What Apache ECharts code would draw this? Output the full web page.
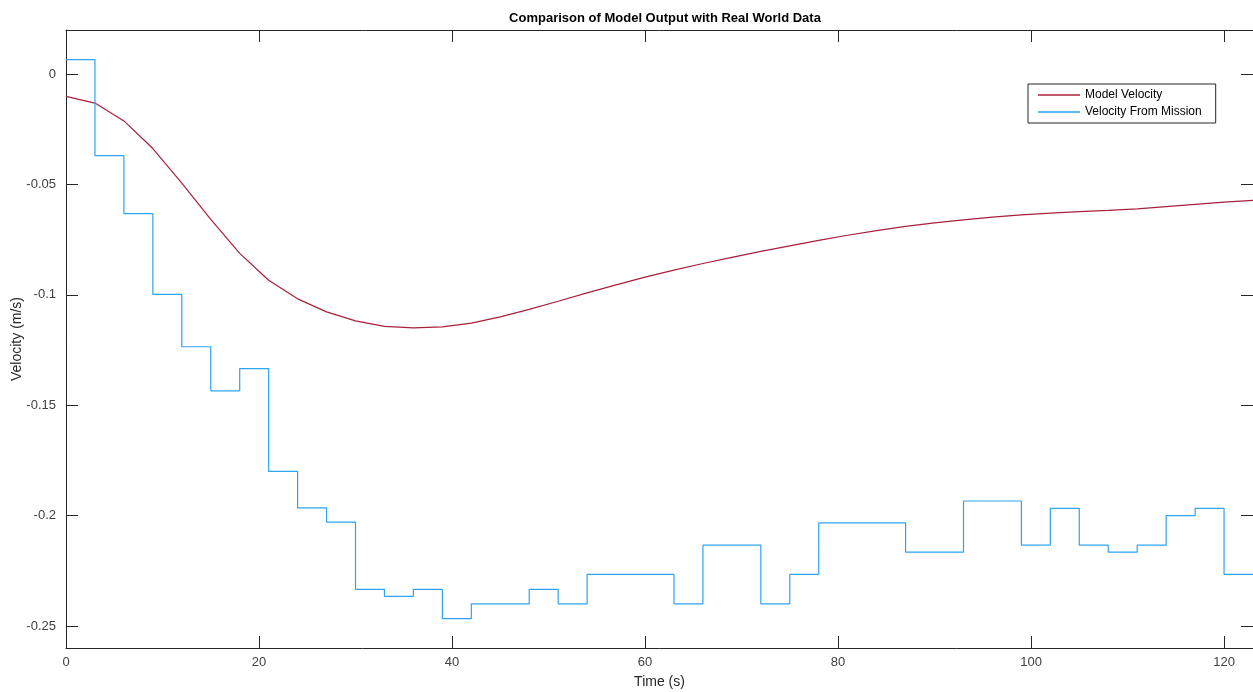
<!DOCTYPE html>
<html>
<head>
<meta charset="utf-8">
<script src="https://cdn.jsdelivr.net/npm/echarts@6/dist/echarts.min.js"></script>
<style>
  html, body { margin: 0; padding: 0; background: #fff; }
  #app { width: 1253px; height: 692px; }
</style>
</head>
<body>
<div id="app"></div>
<script>
// model output, sampled every 3 s
const modelTime = [0, 3, 6, 9, 12, 15, 18, 21, 24, 27, 30, 33, 36, 39, 42, 45, 48, 51, 54, 57, 60,
  63, 66, 69, 72, 75, 78, 81, 84, 87, 90, 93, 96, 99, 102, 105, 108, 111, 114, 117, 120, 123];
const modelVelocity = [-0.0101, -0.0131, -0.0212, -0.0337, -0.0494, -0.0658, -0.0812, -0.0934,
  -0.1018, -0.1077, -0.1118, -0.1143, -0.1150, -0.1145, -0.1128, -0.1100, -0.1066, -0.1029,
  -0.0991, -0.0955, -0.0920, -0.0888, -0.0858, -0.0830, -0.0803, -0.0778, -0.0753, -0.0730,
  -0.0709, -0.0690, -0.0674, -0.0660, -0.0648, -0.0638, -0.0630, -0.0623, -0.0617, -0.0610,
  -0.0600, -0.0590, -0.0580, -0.0572];

// mission data, held constant between samples (last value repeated to close the step)
const missionTime = [0, 3, 6, 9, 12, 15, 18, 21, 24, 27, 30, 33, 36, 39, 42, 45, 48, 51, 54, 57, 60,
  63, 66, 69, 72, 75, 78, 81, 84, 87, 90, 93, 96, 99, 102, 105, 108, 111, 114, 117, 120, 123];
const missionVelocity = [0.0066, -0.0369, -0.0632, -0.0998, -0.1235, -0.1435, -0.1334, -0.1800,
  -0.1965, -0.2030, -0.2334, -0.2366, -0.2334, -0.2467, -0.2400, -0.2400, -0.2334, -0.2400,
  -0.2266, -0.2266, -0.2266, -0.2400, -0.2134, -0.2134, -0.2400, -0.2266, -0.2033, -0.2033,
  -0.2033, -0.2166, -0.2166, -0.1934, -0.1934, -0.2134, -0.1967, -0.2134, -0.2166, -0.2134,
  -0.2000, -0.1967, -0.2266, -0.2266];

const xTicks = [0, 20, 40, 60, 80, 100, 120];
const yTicks = [-0.25, -0.2, -0.15, -0.1, -0.05, 0];

const font = 'Liberation Sans, Arial, Helvetica, sans-serif';
const axisColor = '#262626';

const pairs = (xs, ys) => xs.map((x, i) => [x, ys[i]]);

const xAxisBase = {
  type: 'value',
  min: 0,
  max: 123,
  axisLine: { show: true, onZero: false, lineStyle: { color: axisColor, width: 1 } },
  axisTick: { show: true, inside: true, length: 12, customValues: xTicks, lineStyle: { color: axisColor } },
  splitLine: { show: false },
};
const yAxisBase = {
  type: 'value',
  min: -0.26,
  max: 0.02,
  axisLine: { show: true, onZero: false, lineStyle: { color: axisColor, width: 1 } },
  axisTick: { show: true, inside: true, length: 12, customValues: yTicks, lineStyle: { color: axisColor } },
  splitLine: { show: false },
};

const chart = echarts.init(document.getElementById('app'));
chart.setOption({
  animation: false,
  backgroundColor: '#fff',
  textStyle: { fontFamily: font },
  title: {
    text: 'Comparison of Model Output with Real World Data',
    left: 660,
    textAlign: 'center',
    top: 7,
    textStyle: { fontFamily: font, fontSize: 13, fontWeight: 'bold', color: '#000' }
  },
  legend: {
    orient: 'vertical',
    left: 1028,
    top: 84,
    padding: [5, 14, 5, 10],
    itemGap: 5,
    itemWidth: 42,
    itemHeight: 1.5,
    icon: 'rect',
    borderColor: '#262626',
    borderWidth: 1,
    backgroundColor: '#fff',
    textStyle: { fontFamily: font, fontSize: 12, color: '#000' },
    data: ['Model Velocity', 'Velocity From Mission']
  },
  grid: { left: 66, top: 30, right: 0, bottom: 44, containLabel: false, outerBoundsMode: 'none' },
  xAxis: [
    Object.assign({}, xAxisBase, {
      position: 'bottom',
      name: 'Time (s)',
      nameLocation: 'middle',
      nameGap: 27,
      nameMoveOverlap: false,
      nameTextStyle: { fontFamily: font, fontSize: 14, color: '#262626' },
      axisLabel: { customValues: xTicks, fontSize: 13, color: '#404040', fontFamily: font, margin: 8 }
    }),
    Object.assign({}, xAxisBase, { position: 'top', axisLabel: { show: false } })
  ],
  yAxis: [
    Object.assign({}, yAxisBase, {
      position: 'left',
      name: 'Velocity (m/s)',
      nameLocation: 'middle',
      nameGap: 42,
      nameRotate: 90,
      nameMoveOverlap: false,
      nameTextStyle: { fontFamily: font, fontSize: 14, color: '#262626' },
      axisLabel: { customValues: yTicks, fontSize: 13, color: '#404040', fontFamily: font, margin: 10 }
    }),
    Object.assign({}, yAxisBase, { position: 'right', axisLabel: { show: false } })
  ],
  series: [
    {
      name: 'Model Velocity',
      type: 'line',
      xAxisIndex: 0,
      yAxisIndex: 0,
      data: pairs(modelTime, modelVelocity),
      symbol: 'none',
      smooth: false,
      lineStyle: { color: '#a8203a', width: 1.2 },
      itemStyle: { color: '#a8203a' }
    },
    {
      name: 'Velocity From Mission',
      type: 'line',
      xAxisIndex: 0,
      yAxisIndex: 0,
      step: 'end',
      data: pairs(missionTime, missionVelocity),
      symbol: 'none',
      lineStyle: { color: '#2ea3f2', width: 1.2 },
      itemStyle: { color: '#2ea3f2' }
    }
  ]
});
</script>
</body>
</html>
